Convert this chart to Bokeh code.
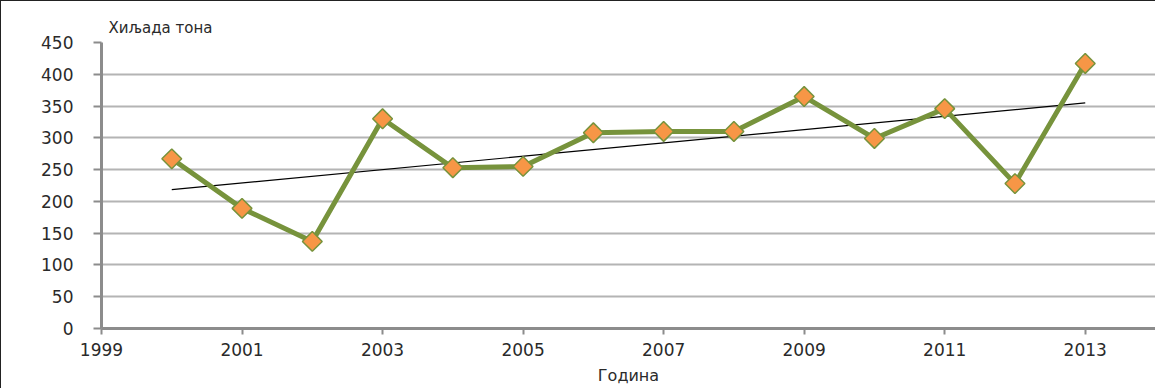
import numpy as np
from bokeh.plotting import figure
from bokeh.models import Range1d, FixedTicker
from bokeh.embed import file_html
from bokeh.resources import INLINE

years = [2000, 2001, 2002, 2003, 2004, 2005, 2006, 2007, 2008, 2009, 2010, 2011, 2012, 2013]
values = [267, 189, 137, 330, 253, 255, 308, 310, 310, 365, 299, 346, 228, 417]
x_ticks = [1999, 2001, 2003, 2005, 2007, 2009, 2011, 2013]
y_ticks = [0, 50, 100, 150, 200, 250, 300, 350, 400, 450]
y_title = "Хиљада  тона"
x_title = "Година"

slope, intercept = np.polyfit(years, values, 1)
trend_x = [years[0], years[-1]]
trend_y = [slope * x + intercept for x in trend_x]

p = figure(width=1155, height=388, output_backend="svg", toolbar_location=None,
           x_range=Range1d(1999, 2014), y_range=Range1d(0, 450),
           min_border_left=100, min_border_right=1, min_border_top=41, min_border_bottom=61,
           title=y_title)
p.styles = {"border-top": "1px solid #222222", "border-left": "1px solid #222222"}
p.title.text_font = "DejaVu Sans"
p.title.text_font_size = "15px"
p.title.text_font_style = "normal"
p.title.text_color = "#2a2a2a"
p.title.align = "left"
p.title.offset = 7
p.title.standoff = 12

p.outline_line_color = None
p.background_fill_color = "white"
p.border_fill_color = "white"

for ax in (p.xaxis, p.yaxis):
    ax.axis_line_color = "#8c8c8c"
    ax.axis_line_width = 3
    ax.major_tick_line_color = "#8c8c8c"
    ax.major_tick_line_width = 2
    ax.minor_tick_line_color = None
    ax.major_label_text_font = "DejaVu Sans"
    ax.major_label_text_font_size = "17px"
    ax.major_label_text_color = "#2a2a2a"

p.xaxis.ticker = FixedTicker(ticks=x_ticks)
p.yaxis.ticker = FixedTicker(ticks=y_ticks)
p.xaxis.major_tick_in = 0
p.xaxis.major_tick_out = 6
p.yaxis.major_tick_in = 0
p.yaxis.major_tick_out = 8
p.yaxis.major_label_standoff = 20
p.xaxis.major_label_standoff = 8
p.xaxis.axis_label = x_title
p.xaxis.axis_label_text_font = "DejaVu Sans"
p.xaxis.axis_label_text_font_size = "16px"
p.xaxis.axis_label_text_font_style = "normal"
p.xaxis.axis_label_text_color = "#2a2a2a"
p.xaxis.axis_label_standoff = 7

p.xgrid.grid_line_color = None
p.ygrid.grid_line_color = "#b4b4b4"
p.ygrid.grid_line_width = 2

p.line(trend_x, trend_y, line_color="black", line_width=1.2)
p.line(years, values, line_color="#77933C", line_width=5)
p.scatter(years, values, marker="square", angle=np.pi / 4, size=14,
          fill_color="#F79646", line_color="#77933C", line_width=1.5)

open("out.html", "w").write(file_html(p, INLINE))
